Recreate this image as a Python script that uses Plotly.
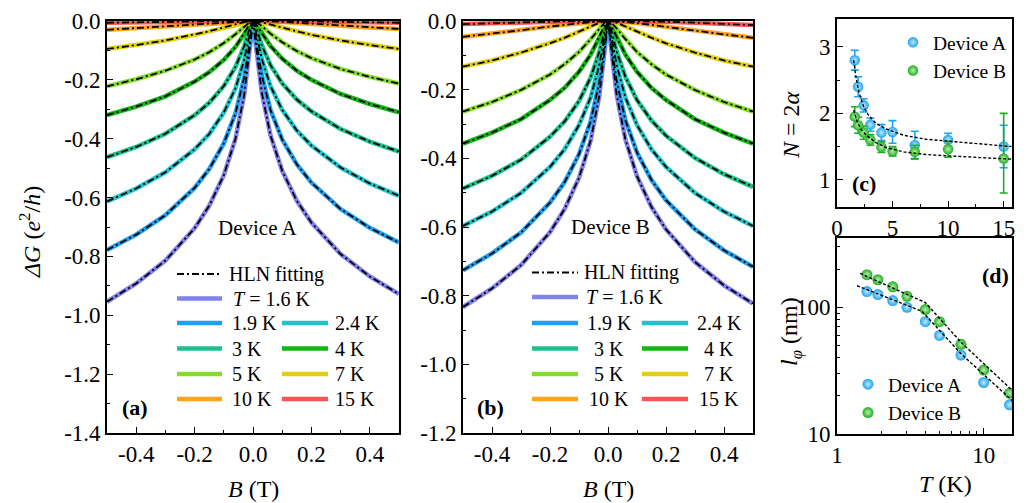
import plotly.graph_objects as go

W, H = 1027, 503

# ---------------- data: panels (a) and (b) ----------------
B = [-0.5, -0.4, -0.3, -0.2, -0.15, -0.1, -0.06, -0.03, -0.01, 0,
     0.01, 0.03, 0.06, 0.1, 0.15, 0.2, 0.3, 0.4, 0.5]

temps = ["1.6", "1.9", "2.4", "3", "4", "5", "7", "10", "15"]
colors = ["#8282ee", "#1e9ff0", "#22c4c8", "#1cc28e", "#12b812",
          "#86dc2e", "#e0d012", "#ffa31e", "#f95555"]

dG_A_16 = [-.954, -.892, -.814, -.704, -.628, -.524, -.400, -.250, -.085, 0, -.083, -.243, -.389, -.509, -.611, -.685, -.792, -.868, -.928]
dG_A_19 = [-.778, -.726, -.660, -.567, -.503, -.416, -.314, -.191, -.061, 0, -.059, -.184, -.303, -.403, -.487, -.549, -.639, -.703, -.753]
dG_A_24 = [-.613, -.569, -.514, -.436, -.384, -.311, -.229, -.132, -.038, 0, -.037, -.128, -.222, -.302, -.372, -.423, -.498, -.552, -.594]
dG_A_3 = [-.463, -.428, -.383, -.320, -.278, -.221, -.156, -.085, -.021, 0, -.020, -.082, -.150, -.212, -.267, -.307, -.367, -.410, -.444]
dG_A_4 = [-.320, -.291, -.256, -.206, -.174, -.132, -.088, -.043, -.009, 0, -.009, -.041, -.085, -.128, -.169, -.200, -.248, -.282, -.310]
dG_A_5 = [-.222, -.198, -.169, -.131, -.106, -.075, -.045, -.018, -.003, 0, -.003, -.017, -.043, -.072, -.102, -.126, -.163, -.190, -.213]
dG_A_7 = [-.095, -.082, -.066, -.047, -.035, -.022, -.011, -.004, -.001, 0, -.001, -.004, -.011, -.022, -.035, -.047, -.066, -.082, -.095]
dG_A_10 = [-.030, -.024, -.018, -.011, -.007, -.004, -.002, -.001, 0, 0, 0, 0, -.001, -.003, -.006, -.010, -.016, -.022, -.027]
dG_A_15 = [-.006, -.004, -.003, -.001, -.001, 0, 0, 0, 0, 0, 0, 0, 0, 0, -.001, -.001, -.003, -.004, -.006]

dG_B_16 = [-.833, -.779, -.711, -.615, -.548, -.457, -.349, -.218, -.074, 0, -.073, -.216, -.345, -.452, -.542, -.607, -.702, -.770, -.823]
dG_B_19 = [-.726, -.677, -.616, -.529, -.470, -.388, -.293, -.178, -.057, 0, -.057, -.175, -.289, -.383, -.463, -.522, -.607, -.668, -.716]
dG_B_24 = [-.597, -.555, -.501, -.425, -.374, -.303, -.223, -.129, -.037, 0, -.037, -.129, -.223, -.303, -.374, -.425, -.501, -.555, -.597]
dG_B_3 = [-.488, -.451, -.404, -.337, -.293, -.233, -.165, -.090, -.022, 0, -.022, -.089, -.163, -.230, -.290, -.334, -.399, -.446, -.483]
dG_B_4 = [-.357, -.325, -.286, -.230, -.195, -.148, -.098, -.047, -.010, 0, -.010, -.047, -.098, -.148, -.195, -.230, -.286, -.325, -.357]
dG_B_5 = [-.264, -.236, -.201, -.156, -.126, -.090, -.053, -.022, -.003, 0, -.003, -.022, -.053, -.090, -.126, -.156, -.201, -.236, -.264]
dG_B_7 = [-.133, -.115, -.092, -.065, -.049, -.031, -.016, -.005, -.001, 0, -.001, -.005, -.016, -.031, -.049, -.065, -.092, -.115, -.133]
dG_B_10 = [-.046, -.037, -.027, -.016, -.011, -.006, -.002, -.001, 0, 0, 0, -.001, -.003, -.006, -.011, -.017, -.029, -.039, -.049]
dG_B_15 = [-.009, -.006, -.004, -.002, -.001, 0, 0, 0, 0, 0, 0, 0, 0, -.001, -.001, -.002, -.005, -.008, -.012]

curves_A = [dG_A_16, dG_A_19, dG_A_24, dG_A_3, dG_A_4, dG_A_5, dG_A_7, dG_A_10, dG_A_15]
curves_B = [dG_B_16, dG_B_19, dG_B_24, dG_B_3, dG_B_4, dG_B_5, dG_B_7, dG_B_10, dG_B_15]

# ---------------- data: panel (c) ----------------
T = [1.6, 1.9, 2.4, 3, 4, 5, 7, 10, 15]
N_A = [2.80, 2.40, 2.12, 1.83, 1.71, 1.72, 1.52, 1.60, 1.50]
N_A_err = [0.15, 0.15, 0.10, 0.10, 0.12, 0.17, 0.21, 0.10, 0.32]
N_B = [1.95, 1.82, 1.71, 1.60, 1.49, 1.43, 1.42, 1.46, 1.32]
N_B_err_plus = [0.15, 0.12, 0.10, 0.08, 0.08, 0.07, 0.10, 0.12, 0.68]
N_B_err_minus = [0.15, 0.12, 0.10, 0.08, 0.08, 0.07, 0.10, 0.12, 0.52]

fitN_A_T = [1.5, 1.7, 2.0, 2.4, 2.8, 3.5, 4.5, 6, 8, 10, 13, 15.7]
fitN_A = [2.80, 2.55, 2.30, 2.10, 1.98, 1.85, 1.76, 1.67, 1.61, 1.58, 1.53, 1.50]
fitN_B_T = [1.5, 1.8, 2.2, 2.7, 3.5, 4.5, 6, 8, 10, 13, 15.7]
fitN_B = [2.05, 1.88, 1.75, 1.66, 1.56, 1.48, 1.42, 1.38, 1.36, 1.33, 1.31]

# ---------------- data: panel (d) ----------------
l_A = [133, 126, 113, 100, 77, 60, 42, 25.5, 17]
l_B = [181, 165, 145, 122, 96, 77, 51, 32, 21]
fitL_A_T = [1.37, 3.8, 7, 17.3]
fitL_A = [148, 93, 43, 16.5]
fitL_B_T = [1.44, 4.0, 7, 17.3]
fitL_B = [185, 109, 53, 19.8]

SERIF = "Liberation Serif"
BLUE = "#1fa3ec"
GREEN = "#1fae1f"


def px(x):
    return x / W


def py(y):
    return 1 - y / H


fig = go.Figure()

HLN_DASH = "7px,3px,2px,3px"

for curves, xa, ya in [(curves_A, "x", "y"), (curves_B, "x2", "y2")]:
    for i, c in enumerate(curves):
        fig.add_trace(go.Scatter(x=B, y=c, xaxis=xa, yaxis=ya, mode="lines",
                                 line=dict(color=colors[i], width=4.5),
                                 showlegend=False, hoverinfo="skip"))
    for i, c in enumerate(curves):
        fig.add_trace(go.Scatter(x=B, y=c, xaxis=xa, yaxis=ya, mode="lines",
                                 line=dict(color="black", width=1.8, dash=HLN_DASH),
                                 showlegend=False, hoverinfo="skip"))

# panel (c)
fig.add_trace(go.Scatter(x=T, y=N_A, xaxis="x3", yaxis="y3", mode="markers", name="Device A",
                         marker=dict(size=10.5, color=BLUE, gradient=dict(type="radial", color="#bfe9ff")),
                         error_y=dict(type="data", array=N_A_err, color=BLUE, thickness=1.6, width=4),
                         legend="legend"))
fig.add_trace(go.Scatter(x=T, y=N_B, xaxis="x3", yaxis="y3", mode="markers", name="Device B",
                         marker=dict(size=10.5, color=GREEN, gradient=dict(type="radial", color="#b8f0b0")),
                         error_y=dict(type="data", symmetric=False, array=N_B_err_plus,
                                      arrayminus=N_B_err_minus, color=GREEN, thickness=1.6, width=4),
                         legend="legend"))
fig.add_trace(go.Scatter(x=fitN_A_T, y=fitN_A, xaxis="x3", yaxis="y3", mode="lines",
                         line=dict(color="black", width=1.4, dash="3px,2px"), showlegend=False))
fig.add_trace(go.Scatter(x=fitN_B_T, y=fitN_B, xaxis="x3", yaxis="y3", mode="lines",
                         line=dict(color="black", width=1.4, dash="3px,2px"), showlegend=False))

# panel (d)
fig.add_trace(go.Scatter(x=T, y=l_A, xaxis="x4", yaxis="y4", mode="markers", name="Device A",
                         marker=dict(size=11, color=BLUE, gradient=dict(type="radial", color="#bfe9ff")),
                         legend="legend2"))
fig.add_trace(go.Scatter(x=T, y=l_B, xaxis="x4", yaxis="y4", mode="markers", name="Device B",
                         marker=dict(size=11, color=GREEN, gradient=dict(type="radial", color="#b8f0b0")),
                         legend="legend2"))
fig.add_trace(go.Scatter(x=fitL_A_T, y=fitL_A, xaxis="x4", yaxis="y4", mode="lines",
                         line=dict(color="black", width=1.4, dash="3px,2px"), showlegend=False))
fig.add_trace(go.Scatter(x=fitL_B_T, y=fitL_B, xaxis="x4", yaxis="y4", mode="lines",
                         line=dict(color="black", width=1.4, dash="3px,2px"), showlegend=False))

tickfont = dict(family=SERIF, size=23, color="black")


def ax(**kw):
    d = dict(showline=True, linecolor="black", linewidth=1.6, mirror=True,
             ticks="inside", ticklen=6, tickwidth=1.4, tickcolor="black",
             showgrid=False, zeroline=False, tickfont=tickfont, fixedrange=True)
    d.update(kw)
    return d


def minor(**kw):
    d = dict(ticks="inside", ticklen=3.5, tickwidth=1.2, tickcolor="black", showgrid=False)
    d.update(kw)
    return d


bx_vals = [-0.4, -0.2, 0, 0.2, 0.4]
bx_text = ["-0.4", "-0.2", "0.0", "0.2", "0.4"]
ya_vals = [0, -0.2, -0.4, -0.6, -0.8, -1.0, -1.2, -1.4]
ya_text = ["0.0", "-0.2", "-0.4", "-0.6", "-0.8", "-1.0", "-1.2", "-1.4"]
yb_vals = [0, -0.2, -0.4, -0.6, -0.8, -1.0, -1.2]
yb_text = ["0.0", "-0.2", "-0.4", "-0.6", "-0.8", "-1.0", "-1.2"]

legend_font = dict(family=SERIF, size=19.5, color="black")

fig.update_layout(
    width=W, height=H, margin=dict(l=0, r=0, t=0, b=0, autoexpand=False),
    paper_bgcolor="white", plot_bgcolor="white",
    font=dict(family=SERIF, color="black"),
    xaxis=ax(domain=[px(107), px(399)], range=[-0.5, 0.5], anchor="y",
             tickmode="array", tickvals=bx_vals, ticktext=bx_text,
             minor=minor(tickmode="linear", tick0=0, dtick=0.1)),
    yaxis=ax(domain=[py(433), py(21)], range=[-1.4, 0], anchor="x",
             tickmode="array", tickvals=ya_vals, ticktext=ya_text,
             minor=minor(tickmode="linear", tick0=0, dtick=0.1)),
    xaxis2=ax(domain=[px(463), px(753)], range=[-0.5, 0.5], anchor="y2",
              tickmode="array", tickvals=bx_vals, ticktext=bx_text,
              minor=minor(tickmode="linear", tick0=0, dtick=0.1)),
    yaxis2=ax(domain=[py(433), py(21)], range=[-1.2, 0], anchor="x2",
              tickmode="array", tickvals=yb_vals, ticktext=yb_text,
              minor=minor(tickmode="linear", tick0=0, dtick=0.1)),
    xaxis3=ax(domain=[px(837), px(1012)], range=[0, 15.75], anchor="y3",
              tickmode="array", tickvals=[0, 5, 10, 15],
              minor=minor(tickmode="linear", tick0=0, dtick=2.5)),
    yaxis3=ax(domain=[py(207), py(19)], range=[0.59, 3.42], anchor="x3",
              tickmode="array", tickvals=[1, 2, 3],
              minor=minor(tickmode="linear", tick0=0, dtick=0.5)),
    xaxis4=ax(domain=[px(837), px(1012)], type="log", range=[0, 1.193], anchor="y4",
              tickmode="array", tickvals=[1, 10], ticktext=["1", "10"],
              minor=minor(tickmode="array", tickvals=[2, 3, 4, 5, 6, 7, 8, 9])),
    yaxis4=ax(domain=[py(434), py(238)], type="log", range=[1, 2.547], anchor="x4",
              tickmode="array", tickvals=[10, 100], ticktext=["10", "100"],
              minor=minor(tickmode="array", tickvals=[20, 30, 40, 50, 60, 70, 80, 90, 200, 300])),
    legend=dict(x=px(893), y=py(23), xanchor="left", yanchor="top", font=legend_font,
                bgcolor="rgba(0,0,0,0)", itemwidth=30, tracegroupgap=0),
    legend2=dict(x=px(848), y=py(365), xanchor="left", yanchor="top", font=legend_font,
                 bgcolor="rgba(0,0,0,0)", itemwidth=30, tracegroupgap=0),
    showlegend=True,
)

annotations = []
shapes = []


def text(x, y, s, size=21, xanchor="center", angle=0, bold=False):
    if bold:
        s = "<b>" + s + "</b>"
    annotations.append(dict(x=px(x), y=py(y), xref="paper", yref="paper", text=s,
                            showarrow=False, xanchor=xanchor, yanchor="middle",
                            textangle=angle, font=dict(family=SERIF, size=size, color="black")))


# axis titles
text(30, 232, "<i>ΔG</i> (<i>e</i><sup>2</sup>/<i>h</i>)", size=24, angle=-90)
text(253, 489, "<i>B</i> (T)", size=24)
text(608, 489, "<i>B</i> (T)", size=24)
text(791, 125, "<i>N</i> = 2<i>α</i>", size=24, angle=-90)
text(791, 332, "<i>l</i><sub><i>φ</i></sub> (nm)", size=24, angle=-90)
text(945, 484, "<i>T</i> (K)", size=24)

# panel labels
text(135, 407, "(a)", size=22, bold=True)
text(490, 407, "(b)", size=22, bold=True)
text(864, 183, "(c)", size=22, bold=True)
text(995, 275, "(d)", size=22, bold=True)

text(258, 228, "Device A", size=21)
text(610, 227, "Device B", size=21)


def seg(x0, x1, y, color, width, dash=None):
    line = dict(color=color, width=width)
    if dash:
        line["dash"] = dash
    shapes.append(dict(type="line", xref="paper", yref="paper", x0=px(x0), x1=px(x1),
                       y0=py(y), y1=py(y), line=line))


# legend panel (a)
rows = [274, 298.5, 323, 348.5, 374, 399]
seg(177, 222, rows[0], "black", 2, HLN_DASH)
text(227, rows[0], "HLN fitting", size=20, xanchor="left")
seg(177, 222, rows[1], colors[0], 4.5)
text(231, rows[1], "<i>T</i> = 1.6 K", size=20, xanchor="left")
col1 = [(1, 2), (3, 3), (5, 4), (7, 5)]
col2 = [(2, 2), (4, 3), (6, 4), (8, 5)]
for ci, r in col1:
    seg(177, 222, rows[r], colors[ci], 4.5)
    text(230, rows[r], temps[ci] + " K", size=20, xanchor="left")
for ci, r in col2:
    seg(282, 328, rows[r], colors[ci], 4.5)
    text(333, rows[r], temps[ci] + " K", size=20, xanchor="left")

# legend panel (b)
rows_b = [272.5, 297, 323, 348.5, 374, 399]
seg(532, 578, rows_b[0], "black", 2, HLN_DASH)
text(582, rows_b[0], "HLN fitting", size=20, xanchor="left")
seg(532, 578, rows_b[1], colors[0], 4.5)
text(584, rows_b[1], "<i>T</i> = 1.6 K", size=20, xanchor="left")
for ci, r in col1:
    seg(532, 578, rows_b[r], colors[ci], 4.5)
    text(609, rows_b[r], temps[ci] + " K", size=20)
for ci, r in col2:
    seg(642, 688, rows_b[r], colors[ci], 4.5)
    text(719, rows_b[r], temps[ci] + " K", size=20)

fig.update_layout(annotations=annotations, shapes=shapes)

fig.write_html("out.html", config={"displayModeBar": False},
               post_script="document.body.style.margin='0px';document.body.style.overflow='hidden';")
